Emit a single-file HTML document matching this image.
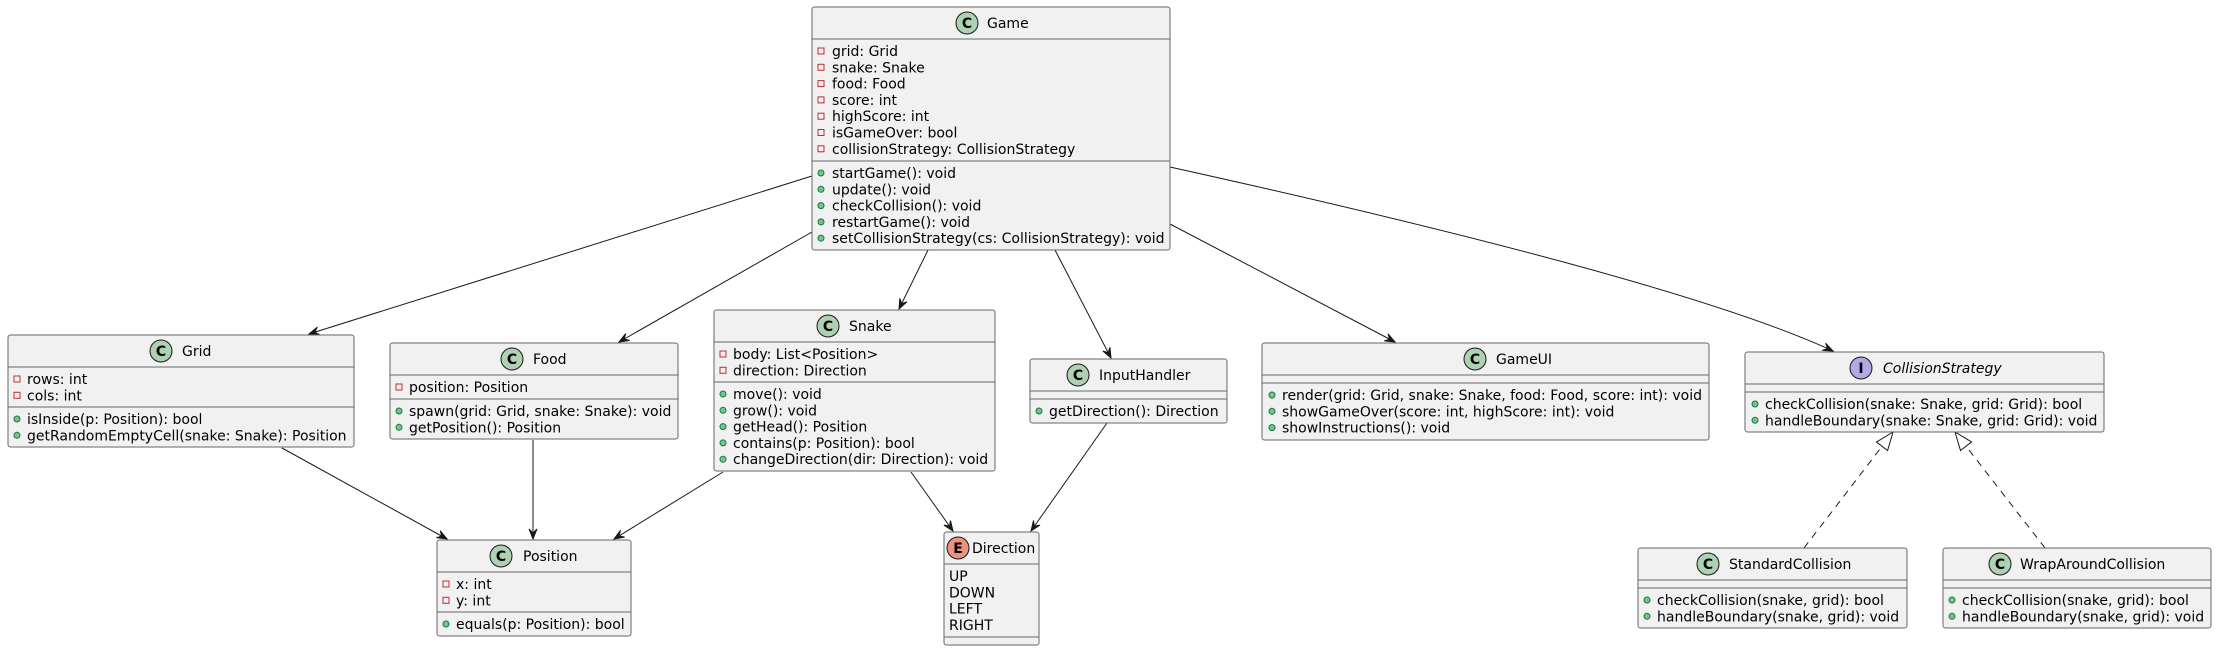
<!DOCTYPE html>
<html><head><meta charset="utf-8"><style>
html,body{margin:0;padding:0;background:#fff;}
svg{display:block;}
text{font-family:"DejaVu Sans","Liberation Sans",sans-serif;font-size:14px;fill:#000;}
.b{fill:#F1F1F1;stroke:#666;stroke-width:1;}
.s{stroke:#666;stroke-width:1;}
.l{stroke:#181818;stroke-width:1;fill:none;}
.pr{fill:none;stroke:#C82930;stroke-width:1;}
.pu{fill:#84BE84;stroke:#038048;stroke-width:1;}
.ic{fill:#ADD1B2;stroke:#181818;stroke-width:1;}
.ii{fill:#B4A7E5;stroke:#181818;stroke-width:1;}
.ie{fill:#EB937F;stroke:#181818;stroke-width:1;}
.il{font-weight:bold;font-size:14px;}
</style></head><body>
<svg width="2217" height="651" viewBox="0 0 2217 651" xmlns="http://www.w3.org/2000/svg">
<defs>
<marker id="a" markerWidth="12" markerHeight="10" refX="11" refY="5" orient="auto" markerUnits="userSpaceOnUse">
<path d="M11,5 L1,1 L5,5 L1,9 Z" fill="#181818" stroke="#181818" stroke-width="1"/>
</marker>
<marker id="t" markerWidth="22" markerHeight="22" refX="20" refY="11" orient="auto" markerUnits="userSpaceOnUse">
<path d="M20,11 L2,4 L2,18 Z" fill="#fff" stroke="#181818" stroke-width="1"/>
</marker>
</defs>

<!-- connectors -->
<line class="l" x1="812" y1="176" x2="309" y2="334" marker-end="url(#a)"/>
<line class="l" x1="812" y1="232" x2="619" y2="342" marker-end="url(#a)"/>
<line class="l" x1="928" y1="250" x2="899" y2="309" marker-end="url(#a)"/>
<line class="l" x1="1055" y1="250" x2="1111" y2="358" marker-end="url(#a)"/>
<line class="l" x1="1170" y1="224" x2="1395" y2="342" marker-end="url(#a)"/>
<path class="l" d="M1170,167 Q1680,280 1833,351" marker-end="url(#a)"/>
<line class="l" x1="282" y1="448" x2="447" y2="539" marker-end="url(#a)"/>
<line class="l" x1="533" y1="440" x2="533" y2="539" marker-end="url(#a)"/>
<line class="l" x1="723" y1="472" x2="614" y2="539" marker-end="url(#a)"/>
<line class="l" x1="911" y1="472" x2="953" y2="531" marker-end="url(#a)"/>
<line class="l" x1="1107" y1="423" x2="1031" y2="531" marker-end="url(#a)"/>
<line class="l" x1="1804" y1="548" x2="1893" y2="432" stroke-dasharray="7,6" marker-end="url(#t)"/>
<line class="l" x1="2045" y1="548" x2="1955" y2="432" stroke-dasharray="7,6" marker-end="url(#t)"/>

<!-- Game -->
<rect class="b" x="812" y="7" width="358" height="243" rx="2.5"/>
<line class="s" x1="812" y1="39" x2="1170" y2="39"/>
<line class="s" x1="812" y1="161" x2="1170" y2="161"/>
<circle class="ic" cx="967" cy="23" r="11"/><text class="il" x="967" y="28" text-anchor="middle">C</text>
<text x="987" y="28">Game</text>
<rect class="pr" x="818" y="48" width="6" height="6"/><text x="832" y="56">grid: Grid</text>
<rect class="pr" x="818" y="64.3" width="6" height="6"/><text x="832" y="72.3">snake: Snake</text>
<rect class="pr" x="818" y="80.6" width="6" height="6"/><text x="832" y="88.6">food: Food</text>
<rect class="pr" x="818" y="96.9" width="6" height="6"/><text x="832" y="104.9">score: int</text>
<rect class="pr" x="818" y="113.2" width="6" height="6"/><text x="832" y="121.2">highScore: int</text>
<rect class="pr" x="818" y="129.5" width="6" height="6"/><text x="832" y="137.5">isGameOver: bool</text>
<rect class="pr" x="818" y="145.8" width="6" height="6"/><text x="832" y="153.8">collisionStrategy: CollisionStrategy</text>
<circle class="pu" cx="821" cy="173" r="3"/><text x="832" y="178">startGame(): void</text>
<circle class="pu" cx="821" cy="189.3" r="3"/><text x="832" y="194.3">update(): void</text>
<circle class="pu" cx="821" cy="205.6" r="3"/><text x="832" y="210.6">checkCollision(): void</text>
<circle class="pu" cx="821" cy="221.9" r="3"/><text x="832" y="226.9">restartGame(): void</text>
<circle class="pu" cx="821" cy="238.2" r="3"/><text x="832" y="243.2">setCollisionStrategy(cs: CollisionStrategy): void</text>

<!-- Grid -->
<rect class="b" x="8" y="335" width="346" height="112" rx="2.5"/>
<line class="s" x1="8" y1="367" x2="354" y2="367"/>
<line class="s" x1="8" y1="407" x2="354" y2="407"/>
<circle class="ic" cx="161" cy="351" r="11"/><text class="il" x="161" y="356" text-anchor="middle">C</text>
<text x="182" y="356">Grid</text>
<rect class="pr" x="14" y="376" width="6" height="6"/><text x="27" y="384">rows: int</text>
<rect class="pr" x="14" y="392.3" width="6" height="6"/><text x="27" y="400.3">cols: int</text>
<circle class="pu" cx="17" cy="419" r="3"/><text x="27" y="424">isInside(p: Position): bool</text>
<circle class="pu" cx="17" cy="435.3" r="3"/><text x="27" y="440.3">getRandomEmptyCell(snake: Snake): Position</text>

<!-- Food -->
<rect class="b" x="390" y="343" width="288" height="96" rx="2.5"/>
<line class="s" x1="390" y1="375" x2="678" y2="375"/>
<line class="s" x1="390" y1="399" x2="678" y2="399"/>
<circle class="ic" cx="512" cy="359" r="11"/><text class="il" x="512" y="364" text-anchor="middle">C</text>
<text x="533" y="364">Food</text>
<rect class="pr" x="396" y="384" width="6" height="6"/><text x="409" y="392">position: Position</text>
<circle class="pu" cx="399" cy="411" r="3"/><text x="409" y="416">spawn(grid: Grid, snake: Snake): void</text>
<circle class="pu" cx="399" cy="427.3" r="3"/><text x="409" y="432.3">getPosition(): Position</text>

<!-- Snake -->
<rect class="b" x="714" y="310" width="281" height="161" rx="2.5"/>
<line class="s" x1="714" y1="342" x2="995" y2="342"/>
<line class="s" x1="714" y1="382" x2="995" y2="382"/>
<circle class="ic" cx="828" cy="326" r="11"/><text class="il" x="828" y="331" text-anchor="middle">C</text>
<text x="849" y="331">Snake</text>
<rect class="pr" x="720" y="351" width="6" height="6"/><text x="733" y="359">body: List&lt;Position&gt;</text>
<rect class="pr" x="720" y="367.3" width="6" height="6"/><text x="733" y="375.3">direction: Direction</text>
<circle class="pu" cx="723" cy="394" r="3"/><text x="733" y="399">move(): void</text>
<circle class="pu" cx="723" cy="410.3" r="3"/><text x="733" y="415.3">grow(): void</text>
<circle class="pu" cx="723" cy="426.6" r="3"/><text x="733" y="431.6">getHead(): Position</text>
<circle class="pu" cx="723" cy="442.9" r="3"/><text x="733" y="447.9">contains(p: Position): bool</text>
<circle class="pu" cx="723" cy="459.2" r="3"/><text x="733" y="464.2">changeDirection(dir: Direction): void</text>

<!-- Position -->
<rect class="b" x="437" y="540" width="194" height="96" rx="2.5"/>
<line class="s" x1="437" y1="572" x2="631" y2="572"/>
<line class="s" x1="437" y1="612" x2="631" y2="612"/>
<circle class="ic" cx="501" cy="556" r="11"/><text class="il" x="501" y="561" text-anchor="middle">C</text>
<text x="523" y="561">Position</text>
<rect class="pr" x="443" y="581" width="6" height="6"/><text x="456" y="589">x: int</text>
<rect class="pr" x="443" y="597.3" width="6" height="6"/><text x="456" y="605.3">y: int</text>
<circle class="pu" cx="446" cy="624" r="3"/><text x="456" y="629">equals(p: Position): bool</text>

<!-- Direction -->
<rect class="b" x="944" y="532" width="95" height="113" rx="2.5"/>
<line class="s" x1="944" y1="564" x2="1039" y2="564"/>
<line class="s" x1="944" y1="637" x2="1039" y2="637"/>
<circle class="ie" cx="958" cy="548" r="11"/><text class="il" x="958" y="553" text-anchor="middle">E</text>
<text x="972" y="553">Direction</text>
<text x="949" y="581">UP</text>
<text x="949" y="597.3">DOWN</text>
<text x="949" y="613.6">LEFT</text>
<text x="949" y="629.9">RIGHT</text>

<!-- InputHandler -->
<rect class="b" x="1030" y="359" width="197" height="64" rx="2.5"/>
<line class="s" x1="1030" y1="391" x2="1227" y2="391"/>
<line class="s" x1="1030" y1="399" x2="1227" y2="399"/>
<circle class="ic" cx="1078" cy="375" r="11"/><text class="il" x="1078" y="380" text-anchor="middle">C</text>
<text x="1099" y="380">InputHandler</text>
<circle class="pu" cx="1039" cy="411" r="3"/><text x="1049" y="416">getDirection(): Direction</text>

<!-- GameUI -->
<rect class="b" x="1262" y="343" width="447" height="97" rx="2.5"/>
<line class="s" x1="1262" y1="375" x2="1709" y2="375"/>
<line class="s" x1="1262" y1="383" x2="1709" y2="383"/>
<circle class="ic" cx="1475" cy="359" r="11"/><text class="il" x="1475" y="364" text-anchor="middle">C</text>
<text x="1496" y="364">GameUI</text>
<circle class="pu" cx="1272" cy="395" r="3"/><text x="1282" y="400">render(grid: Grid, snake: Snake, food: Food, score: int): void</text>
<circle class="pu" cx="1272" cy="411.3" r="3"/><text x="1282" y="416.3">showGameOver(score: int, highScore: int): void</text>
<circle class="pu" cx="1272" cy="427.6" r="3"/><text x="1282" y="432.6">showInstructions(): void</text>

<!-- CollisionStrategy -->
<rect class="b" x="1745" y="352" width="359" height="80" rx="2.5"/>
<line class="s" x1="1745" y1="384" x2="2104" y2="384"/>
<line class="s" x1="1745" y1="392" x2="2104" y2="392"/>
<circle class="ii" cx="1861" cy="368" r="11"/><text class="il" x="1861" y="373" text-anchor="middle">I</text>
<text x="1883" y="373" style="font-style:italic">CollisionStrategy</text>
<circle class="pu" cx="1755" cy="404" r="3"/><text x="1765" y="409">checkCollision(snake: Snake, grid: Grid): bool</text>
<circle class="pu" cx="1755" cy="420.3" r="3"/><text x="1765" y="425.3">handleBoundary(snake: Snake, grid: Grid): void</text>

<!-- StandardCollision -->
<rect class="b" x="1638" y="548" width="269" height="80" rx="2.5"/>
<line class="s" x1="1638" y1="580" x2="1907" y2="580"/>
<line class="s" x1="1638" y1="588" x2="1907" y2="588"/>
<circle class="ic" cx="1708" cy="564" r="11"/><text class="il" x="1708" y="569" text-anchor="middle">C</text>
<text x="1729" y="569">StandardCollision</text>
<circle class="pu" cx="1647" cy="600" r="3"/><text x="1657" y="605">checkCollision(snake, grid): bool</text>
<circle class="pu" cx="1647" cy="616.3" r="3"/><text x="1657" y="621.3">handleBoundary(snake, grid): void</text>

<!-- WrapAroundCollision -->
<rect class="b" x="1943" y="548" width="268" height="80" rx="2.5"/>
<line class="s" x1="1943" y1="580" x2="2211" y2="580"/>
<line class="s" x1="1943" y1="588" x2="2211" y2="588"/>
<circle class="ic" cx="2000" cy="564" r="11"/><text class="il" x="2000" y="569" text-anchor="middle">C</text>
<text x="2020" y="569">WrapAroundCollision</text>
<circle class="pu" cx="1952" cy="600" r="3"/><text x="1962" y="605">checkCollision(snake, grid): bool</text>
<circle class="pu" cx="1952" cy="616.3" r="3"/><text x="1962" y="621.3">handleBoundary(snake, grid): void</text>
</svg>
</body></html>
